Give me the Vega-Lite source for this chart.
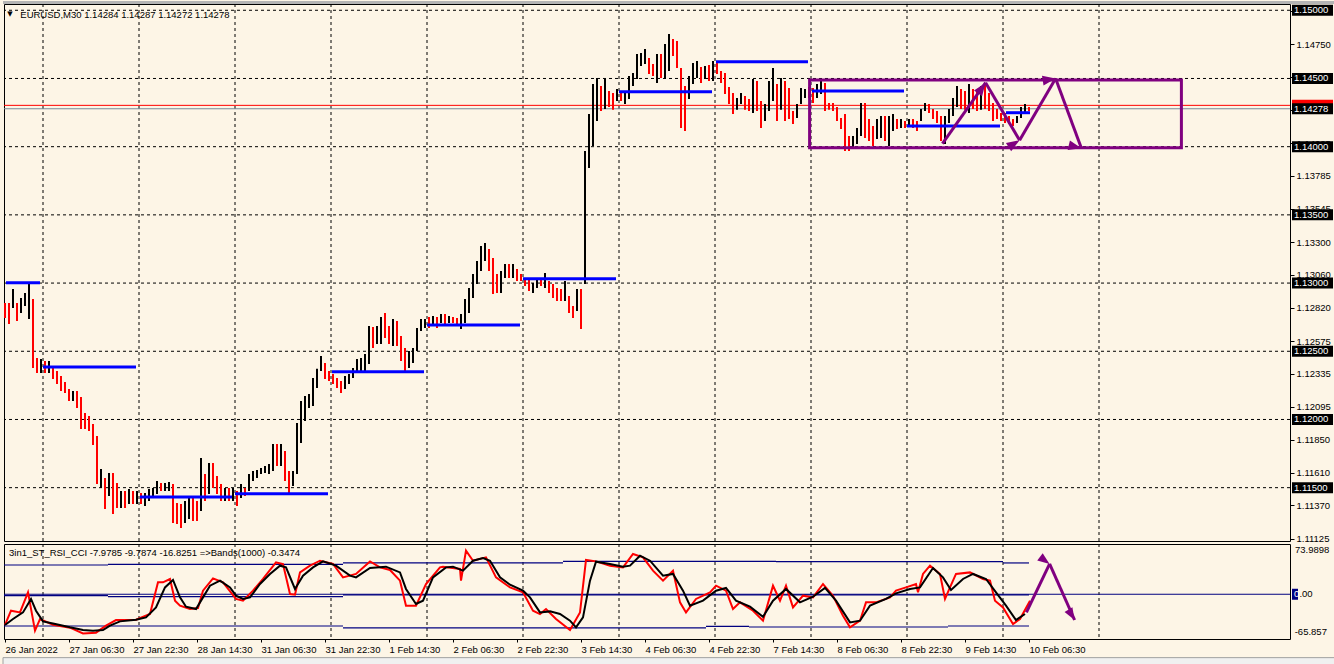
{
"$schema":"https://vega.github.io/schema/vega-lite/v6.json",
"background":"#FDF5E6",
"padding":0,
"spacing":3,
"bounds":"flush",
"config":{"view":{"stroke":"#000000","strokeWidth":1,"fill":"#FDF5E6"},"font":"Tahoma, Liberation Sans, sans-serif","axis":{"labelFont":"Tahoma, Liberation Sans, sans-serif","labelFontSize":9.5,"labelColor":"#000000","labelOverlap":false,"labelBound":false,"labelFlush":false},"text":{"font":"Tahoma, Liberation Sans, sans-serif","fontSize":9.5}},
"datasets":{
"days":[{"i":19},{"i":67},{"i":115},{"i":163},{"i":211},{"i":259},{"i":307},{"i":355},{"i":403},{"i":451},{"i":499},{"i":547}],
"bars":[
{"i":0,"h":1.12854,"l":1.12744,"u":0},{"i":2,"h":1.12854,"l":1.12700,"u":0},{"i":4,"h":1.12956,"l":1.12818,"u":1},{"i":6,"h":1.12854,"l":1.12722,"u":0},{"i":8,"h":1.12891,"l":1.12780,"u":1},{"i":10,"h":1.12927,"l":1.12832,"u":1},{"i":12,"h":1.12993,"l":1.12736,"u":1},{"i":14,"h":1.12883,"l":1.12378,"u":0},{"i":16,"h":1.12451,"l":1.12341,"u":0},{"i":18,"h":1.12444,"l":1.12341,"u":1},
{"i":20,"h":1.12429,"l":1.12341,"u":0},{"i":22,"h":1.12429,"l":1.12341,"u":1},{"i":24,"h":1.12378,"l":1.12297,"u":0},{"i":26,"h":1.12356,"l":1.12260,"u":0},{"i":28,"h":1.12319,"l":1.12209,"u":0},{"i":30,"h":1.12275,"l":1.12194,"u":0},{"i":32,"h":1.12223,"l":1.12136,"u":0},{"i":34,"h":1.12209,"l":1.12136,"u":1},{"i":36,"h":1.12209,"l":1.12085,"u":0},{"i":38,"h":1.12165,"l":1.11930,"u":0},
{"i":40,"h":1.12047,"l":1.11930,"u":0},{"i":42,"h":1.12025,"l":1.11916,"u":0},{"i":44,"h":1.11967,"l":1.11813,"u":0},{"i":46,"h":1.11879,"l":1.11527,"u":0},{"i":48,"h":1.11637,"l":1.11498,"u":1},{"i":50,"h":1.11571,"l":1.11343,"u":0},{"i":52,"h":1.11607,"l":1.11439,"u":1},{"i":54,"h":1.11607,"l":1.11307,"u":0},{"i":56,"h":1.11534,"l":1.11351,"u":0},{"i":58,"h":1.11476,"l":1.11351,"u":1},
{"i":60,"h":1.11476,"l":1.11351,"u":0},{"i":62,"h":1.11490,"l":1.11380,"u":1},{"i":64,"h":1.11476,"l":1.11380,"u":0},{"i":66,"h":1.11476,"l":1.11380,"u":1},{"i":68,"h":1.11461,"l":1.11380,"u":0},{"i":70,"h":1.11461,"l":1.11365,"u":1},{"i":72,"h":1.11490,"l":1.11402,"u":1},{"i":74,"h":1.11498,"l":1.11439,"u":1},{"i":76,"h":1.11549,"l":1.11454,"u":1},{"i":78,"h":1.11534,"l":1.11476,"u":0},
{"i":80,"h":1.11534,"l":1.11476,"u":1},{"i":82,"h":1.11542,"l":1.11476,"u":1},{"i":84,"h":1.11527,"l":1.11241,"u":0},{"i":86,"h":1.11387,"l":1.11234,"u":0},{"i":88,"h":1.11380,"l":1.11204,"u":0},{"i":90,"h":1.11402,"l":1.11241,"u":1},{"i":92,"h":1.11424,"l":1.11270,"u":1},{"i":94,"h":1.11424,"l":1.11256,"u":0},{"i":96,"h":1.11402,"l":1.11256,"u":0},{"i":98,"h":1.11718,"l":1.11329,"u":1},
{"i":100,"h":1.11600,"l":1.11402,"u":0},{"i":102,"h":1.11681,"l":1.11454,"u":1},{"i":104,"h":1.11681,"l":1.11498,"u":0},{"i":106,"h":1.11585,"l":1.11454,"u":0},{"i":108,"h":1.11527,"l":1.11402,"u":0},{"i":110,"h":1.11498,"l":1.11402,"u":1},{"i":112,"h":1.11498,"l":1.11402,"u":0},{"i":114,"h":1.11498,"l":1.11402,"u":1},{"i":116,"h":1.11476,"l":1.11365,"u":0},{"i":118,"h":1.11527,"l":1.11424,"u":1},
{"i":120,"h":1.11498,"l":1.11439,"u":0},{"i":122,"h":1.11600,"l":1.11476,"u":1},{"i":124,"h":1.11622,"l":1.11549,"u":1},{"i":126,"h":1.11629,"l":1.11571,"u":1},{"i":128,"h":1.11644,"l":1.11600,"u":1},{"i":130,"h":1.11659,"l":1.11607,"u":1},{"i":132,"h":1.11674,"l":1.11600,"u":1},{"i":134,"h":1.11820,"l":1.11622,"u":1},{"i":136,"h":1.11820,"l":1.11659,"u":0},{"i":138,"h":1.11820,"l":1.11659,"u":1},
{"i":140,"h":1.11769,"l":1.11549,"u":0},{"i":142,"h":1.11622,"l":1.11461,"u":0},{"i":144,"h":1.11622,"l":1.11512,"u":1},{"i":146,"h":1.11974,"l":1.11600,"u":1},{"i":148,"h":1.12136,"l":1.11827,"u":1},{"i":150,"h":1.12172,"l":1.11989,"u":1},{"i":152,"h":1.12187,"l":1.12085,"u":1},{"i":154,"h":1.12304,"l":1.12099,"u":1},{"i":156,"h":1.12371,"l":1.12231,"u":1},{"i":158,"h":1.12465,"l":1.12356,"u":1},
{"i":160,"h":1.12414,"l":1.12297,"u":0},{"i":162,"h":1.12356,"l":1.12282,"u":0},{"i":164,"h":1.12334,"l":1.12260,"u":0},{"i":166,"h":1.12304,"l":1.12231,"u":0},{"i":168,"h":1.12282,"l":1.12194,"u":0},{"i":170,"h":1.12319,"l":1.12223,"u":1},{"i":172,"h":1.12334,"l":1.12260,"u":1},{"i":174,"h":1.12378,"l":1.12304,"u":1},{"i":176,"h":1.12444,"l":1.12356,"u":1},{"i":178,"h":1.12451,"l":1.12356,"u":1},
{"i":180,"h":1.12480,"l":1.12341,"u":1},{"i":182,"h":1.12686,"l":1.12407,"u":1},{"i":184,"h":1.12678,"l":1.12524,"u":0},{"i":186,"h":1.12686,"l":1.12554,"u":1},{"i":188,"h":1.12751,"l":1.12554,"u":1},{"i":190,"h":1.12780,"l":1.12598,"u":0},{"i":192,"h":1.12686,"l":1.12554,"u":0},{"i":194,"h":1.12736,"l":1.12539,"u":1},{"i":196,"h":1.12722,"l":1.12539,"u":0},{"i":198,"h":1.12612,"l":1.12429,"u":0},
{"i":200,"h":1.12524,"l":1.12356,"u":0},{"i":202,"h":1.12502,"l":1.12378,"u":1},{"i":204,"h":1.12524,"l":1.12414,"u":1},{"i":206,"h":1.12671,"l":1.12502,"u":1},{"i":208,"h":1.12736,"l":1.12649,"u":1},{"i":210,"h":1.12736,"l":1.12671,"u":1},{"i":212,"h":1.12751,"l":1.12671,"u":0},{"i":214,"h":1.12758,"l":1.12686,"u":1},{"i":216,"h":1.12751,"l":1.12671,"u":0},{"i":218,"h":1.12773,"l":1.12707,"u":1},
{"i":220,"h":1.12773,"l":1.12700,"u":0},{"i":222,"h":1.12758,"l":1.12707,"u":1},{"i":224,"h":1.12751,"l":1.12707,"u":0},{"i":226,"h":1.12744,"l":1.12686,"u":0},{"i":228,"h":1.12773,"l":1.12664,"u":1},{"i":230,"h":1.12883,"l":1.12707,"u":1},{"i":232,"h":1.12964,"l":1.12780,"u":1},{"i":234,"h":1.13067,"l":1.12891,"u":1},{"i":236,"h":1.13162,"l":1.12993,"u":1},{"i":238,"h":1.13272,"l":1.13089,"u":1},
{"i":240,"h":1.13294,"l":1.13162,"u":1},{"i":242,"h":1.13250,"l":1.13089,"u":0},{"i":244,"h":1.13184,"l":1.12920,"u":0},{"i":246,"h":1.13067,"l":1.12927,"u":0},{"i":248,"h":1.13089,"l":1.12927,"u":1},{"i":250,"h":1.13140,"l":1.13037,"u":1},{"i":252,"h":1.13140,"l":1.13037,"u":0},{"i":254,"h":1.13140,"l":1.13037,"u":1},{"i":256,"h":1.13104,"l":1.13015,"u":0},{"i":258,"h":1.13067,"l":1.13015,"u":0},
{"i":260,"h":1.13037,"l":1.12978,"u":0},{"i":262,"h":1.13037,"l":1.12942,"u":0},{"i":264,"h":1.13000,"l":1.12927,"u":1},{"i":266,"h":1.13030,"l":1.12964,"u":1},{"i":268,"h":1.13037,"l":1.12978,"u":0},{"i":270,"h":1.13074,"l":1.12964,"u":1},{"i":272,"h":1.13015,"l":1.12927,"u":0},{"i":274,"h":1.12993,"l":1.12891,"u":0},{"i":276,"h":1.12964,"l":1.12869,"u":0},{"i":278,"h":1.12956,"l":1.12869,"u":0},
{"i":280,"h":1.13015,"l":1.12869,"u":1},{"i":282,"h":1.12905,"l":1.12780,"u":0},{"i":284,"h":1.12832,"l":1.12744,"u":0},{"i":286,"h":1.12956,"l":1.12795,"u":1},{"i":288,"h":1.12956,"l":1.12664,"u":0},{"i":290,"h":1.13969,"l":1.12993,"u":1},{"i":292,"h":1.14240,"l":1.13844,"u":1},{"i":294,"h":1.14460,"l":1.14005,"u":1},{"i":296,"h":1.14504,"l":1.14188,"u":1},{"i":298,"h":1.14445,"l":1.14262,"u":0},
{"i":300,"h":1.14496,"l":1.14277,"u":1},{"i":302,"h":1.14408,"l":1.14291,"u":0},{"i":304,"h":1.14394,"l":1.14270,"u":0},{"i":306,"h":1.14423,"l":1.14335,"u":1},{"i":308,"h":1.14394,"l":1.14335,"u":0},{"i":310,"h":1.14394,"l":1.14313,"u":1},{"i":312,"h":1.14518,"l":1.14350,"u":1},{"i":314,"h":1.14540,"l":1.14445,"u":1},{"i":316,"h":1.14680,"l":1.14496,"u":1},{"i":318,"h":1.14687,"l":1.14592,"u":1},
{"i":320,"h":1.14716,"l":1.14606,"u":1},{"i":322,"h":1.14650,"l":1.14533,"u":0},{"i":324,"h":1.14606,"l":1.14518,"u":0},{"i":326,"h":1.14680,"l":1.14467,"u":1},{"i":328,"h":1.14680,"l":1.14504,"u":0},{"i":330,"h":1.14753,"l":1.14496,"u":1},{"i":332,"h":1.14826,"l":1.14555,"u":1},{"i":334,"h":1.14790,"l":1.14665,"u":0},{"i":336,"h":1.14775,"l":1.14577,"u":0},{"i":338,"h":1.14577,"l":1.14137,"u":0},
{"i":340,"h":1.14445,"l":1.14115,"u":0},{"i":342,"h":1.14518,"l":1.14350,"u":1},{"i":344,"h":1.14613,"l":1.14460,"u":1},{"i":346,"h":1.14628,"l":1.14504,"u":1},{"i":348,"h":1.14584,"l":1.14467,"u":0},{"i":350,"h":1.14592,"l":1.14496,"u":1},{"i":352,"h":1.14599,"l":1.14482,"u":0},{"i":354,"h":1.14628,"l":1.14482,"u":1},{"i":356,"h":1.14628,"l":1.14533,"u":0},{"i":358,"h":1.14555,"l":1.14467,"u":0},
{"i":360,"h":1.14540,"l":1.14386,"u":0},{"i":362,"h":1.14438,"l":1.14313,"u":0},{"i":364,"h":1.14394,"l":1.14240,"u":0},{"i":366,"h":1.14357,"l":1.14270,"u":1},{"i":368,"h":1.14394,"l":1.14313,"u":1},{"i":370,"h":1.14372,"l":1.14270,"u":0},{"i":372,"h":1.14350,"l":1.14262,"u":0},{"i":374,"h":1.14496,"l":1.14247,"u":1},{"i":376,"h":1.14482,"l":1.14262,"u":0},{"i":378,"h":1.14335,"l":1.14137,"u":0},
{"i":380,"h":1.14313,"l":1.14188,"u":1},{"i":382,"h":1.14482,"l":1.14262,"u":1},{"i":384,"h":1.14577,"l":1.14335,"u":1},{"i":386,"h":1.14460,"l":1.14188,"u":0},{"i":388,"h":1.14504,"l":1.14270,"u":1},{"i":390,"h":1.14482,"l":1.14188,"u":0},{"i":392,"h":1.14430,"l":1.14203,"u":0},{"i":394,"h":1.14262,"l":1.14166,"u":0},{"i":396,"h":1.14313,"l":1.14210,"u":1},{"i":398,"h":1.14430,"l":1.14313,"u":1},
{"i":400,"h":1.14423,"l":1.14357,"u":1},{"i":402,"h":1.14438,"l":1.14357,"u":0},{"i":404,"h":1.14430,"l":1.14320,"u":0},{"i":406,"h":1.14460,"l":1.14357,"u":1},{"i":408,"h":1.14482,"l":1.14386,"u":1},{"i":410,"h":1.14467,"l":1.14262,"u":0},{"i":412,"h":1.14320,"l":1.14270,"u":0},{"i":414,"h":1.14320,"l":1.14262,"u":0},{"i":416,"h":1.14291,"l":1.14188,"u":0},{"i":418,"h":1.14210,"l":1.14130,"u":0},
{"i":420,"h":1.14240,"l":1.13969,"u":0},{"i":422,"h":1.14078,"l":1.13969,"u":0},{"i":424,"h":1.14078,"l":1.13983,"u":1},{"i":426,"h":1.14137,"l":1.14020,"u":1},{"i":428,"h":1.14320,"l":1.14078,"u":1},{"i":430,"h":1.14320,"l":1.14064,"u":0},{"i":432,"h":1.14203,"l":1.14042,"u":0},{"i":434,"h":1.14152,"l":1.14005,"u":0},{"i":436,"h":1.14203,"l":1.14056,"u":1},{"i":438,"h":1.14225,"l":1.14064,"u":1},
{"i":440,"h":1.14225,"l":1.14042,"u":0},{"i":442,"h":1.14225,"l":1.14005,"u":1},{"i":444,"h":1.14240,"l":1.14115,"u":1},{"i":446,"h":1.14203,"l":1.14130,"u":0},{"i":448,"h":1.14203,"l":1.14137,"u":1},{"i":450,"h":1.14188,"l":1.14137,"u":0},{"i":452,"h":1.14203,"l":1.14152,"u":1},{"i":454,"h":1.14203,"l":1.14137,"u":0},{"i":456,"h":1.14188,"l":1.14115,"u":0},{"i":458,"h":1.14277,"l":1.14188,"u":1},
{"i":460,"h":1.14320,"l":1.14262,"u":1},{"i":462,"h":1.14313,"l":1.14247,"u":0},{"i":464,"h":1.14277,"l":1.14203,"u":0},{"i":466,"h":1.14262,"l":1.14174,"u":0},{"i":468,"h":1.14225,"l":1.14042,"u":0},{"i":470,"h":1.14225,"l":1.14020,"u":1},{"i":472,"h":1.14277,"l":1.14174,"u":1},{"i":474,"h":1.14357,"l":1.14225,"u":1},{"i":476,"h":1.14445,"l":1.14291,"u":1},{"i":478,"h":1.14423,"l":1.14277,"u":0},
{"i":480,"h":1.14408,"l":1.14270,"u":0},{"i":482,"h":1.14460,"l":1.14247,"u":1},{"i":484,"h":1.14423,"l":1.14277,"u":0},{"i":486,"h":1.14408,"l":1.14262,"u":0},{"i":488,"h":1.14445,"l":1.14270,"u":1},{"i":490,"h":1.14467,"l":1.14277,"u":0},{"i":492,"h":1.14394,"l":1.14262,"u":0},{"i":494,"h":1.14320,"l":1.14188,"u":0},{"i":496,"h":1.14277,"l":1.14203,"u":0},{"i":498,"h":1.14247,"l":1.14188,"u":0},
{"i":500,"h":1.14247,"l":1.14174,"u":0},{"i":502,"h":1.14225,"l":1.14166,"u":0},{"i":504,"h":1.14203,"l":1.14152,"u":0},{"i":506,"h":1.14225,"l":1.14174,"u":1},{"i":508,"h":1.14291,"l":1.14210,"u":1},{"i":510,"h":1.14313,"l":1.14247,"u":1},{"i":512,"h":1.14291,"l":1.14262,"u":0}
],
"lev":[{"a":0.5,"b":17.5,"p":1.13002},{"a":19,"b":65.5,"p":1.12385},{"a":67.5,"b":113.5,"p":1.11432},{"a":115,"b":161.5,"p":1.11456},{"a":163.5,"b":209.5,"p":1.1235},{"a":211,"b":257.5,"p":1.12693},{"a":259,"b":305.5,"p":1.13032},{"a":307,"b":353.5,"p":1.14403},{"a":355.5,"b":401.5,"p":1.14623},{"a":403.5,"b":449.5,"p":1.14408},{"a":451,"b":497.5,"p":1.14152},{"a":500.5,"b":512.5,"p":1.14249}],
"arrows":[{"leg":1,"a":468.7,"p":1.14022,"b":490.3,"q":1.14469},{"leg":2,"a":490.3,"p":1.14469,"b":507.3,"q":1.14047},{"leg":3,"a":507.3,"p":1.14047,"b":525.3,"q":1.145},{"leg":4,"a":525.3,"p":1.145,"b":538.2,"q":1.13988}],
"iarrows":[{"leg":5,"a":510.7,"p":-26.7,"b":522.3,"q":44.6},{"leg":6,"a":522.3,"p":44.6,"b":534.8,"q":-37.9}],
"boxes":[{"p":1.15,"t":"1.15000"},{"p":1.145,"t":"1.14500"},{"p":1.14,"t":"1.14000"},{"p":1.135,"t":"1.13500"},{"p":1.13,"t":"1.13000"},{"p":1.125,"t":"1.12500"},{"p":1.12,"t":"1.12000"},{"p":1.115,"t":"1.11500"},{"p":1.14278,"t":"1.14278"}],
"slow":[{"i":0,"v":-45.2},{"i":4,"v":-36.4},{"i":9,"v":-26.7},{"i":13,"v":-6.9},{"i":15.5,"v":-24.2},{"i":19,"v":-39.9},{"i":24,"v":-42.9},{"i":32.5,"v":-48.7},{"i":39,"v":-52.6},{"i":44,"v":-53.6},{"i":49,"v":-52.6},{"i":52.5,"v":-46.2},{"i":57.5,"v":-39.9},{"i":65.5,"v":-37.4},{"i":70.5,"v":-34},{"i":75.5,"v":-19.3},{"i":80,"v":10.1},{"i":84,"v":21},{"i":87.5,"v":-4.6},{"i":90.5,"v":-18.3},{"i":95.5,"v":-21.7},{"i":99,"v":-4.6},{"i":102.5,"v":12.6},{"i":107.5,"v":20},{"i":112.5,"v":10.1},{"i":115.5,"v":-2.1},{"i":119,"v":-6.9},{"i":122.5,"v":-4.6},{"i":127.5,"v":15.1},{"i":132.5,"v":29.9},{"i":137.5,"v":42.1},{"i":140.5,"v":39.6},{"i":145,"v":7.8},{"i":149,"v":27.4},{"i":154,"v":39.6},{"i":159,"v":48.4},{"i":165.5,"v":42.1},{"i":172.5,"v":27.4},{"i":175.5,"v":24.9},{"i":182.5,"v":38.7},{"i":190.5,"v":40.6},{"i":197.5,"v":32.2},{"i":200.5,"v":7.8},{"i":205.5,"v":-14.3},{"i":209,"v":-9.4},{"i":214,"v":24.9},{"i":220.5,"v":39.6},{"i":224,"v":40.6},{"i":229,"v":34.7},{"i":234,"v":49.4},{"i":239,"v":53.4},{"i":242.5,"v":49.4},{"i":247.5,"v":24.9},{"i":252.5,"v":14.1},{"i":259,"v":5.3},{"i":262.5,"v":-4.6},{"i":267.5,"v":-26.7},{"i":272.5,"v":-25.2},{"i":277.5,"v":-29.1},{"i":282.5,"v":-38.9},{"i":285.5,"v":-48.7},{"i":289,"v":-34},{"i":292.5,"v":20},{"i":295.5,"v":48},{"i":302.5,"v":44.6},{"i":309,"v":40.6},{"i":312.5,"v":42.1},{"i":317.5,"v":56.8},{"i":322.5,"v":49.4},{"i":329,"v":27.4},{"i":334,"v":29.9},{"i":339,"v":5.3},{"i":342.5,"v":-16.8},{"i":349,"v":-9.4},{"i":355.5,"v":5.3},{"i":360.5,"v":9.3},{"i":365.5,"v":-9.4},{"i":372.5,"v":-18.3},{"i":379,"v":-33},{"i":384,"v":-9.4},{"i":390.5,"v":7.8},{"i":397.5,"v":-11.9},{"i":404,"v":-3.6},{"i":410,"v":9.3},{"i":415.5,"v":-9.4},{"i":422.5,"v":-41.4},{"i":427.5,"v":-38.9},{"i":432.5,"v":-16.8},{"i":440.5,"v":-6.9},{"i":445.5,"v":1.3},{"i":452.5,"v":7.8},{"i":457.5,"v":10.1},{"i":464,"v":38.7},{"i":469,"v":24.9},{"i":473,"v":6.3},{"i":479,"v":22.5},{"i":484,"v":29.9},{"i":490.5,"v":22.5},{"i":495.5,"v":2.8},{"i":500.5,"v":-16.8},{"i":505.5,"v":-37.9},{"i":510,"v":-29}],
"fast":[{"i":0,"v":-45.2},{"i":3,"v":-24.2},{"i":7.5,"v":-26.7},{"i":11.5,"v":2.8},{"i":15,"v":-53.6},{"i":17.5,"v":-36.4},{"i":24,"v":-44.8},{"i":32.5,"v":-49.2},{"i":39,"v":-57.6},{"i":45.5,"v":-56.5},{"i":50.5,"v":-46.2},{"i":55.5,"v":-37.9},{"i":65.5,"v":-37.4},{"i":72.5,"v":-29.1},{"i":76.5,"v":17.5},{"i":79,"v":17.5},{"i":82.5,"v":22.5},{"i":85,"v":-9.4},{"i":87.5,"v":-16.8},{"i":92.5,"v":-21.7},{"i":96.5,"v":-20.2},{"i":99,"v":5.3},{"i":104,"v":23.4},{"i":109,"v":17.5},{"i":115.5,"v":-6.9},{"i":119,"v":-9.4},{"i":124,"v":5.3},{"i":129,"v":22.5},{"i":135.5,"v":46.9},{"i":139,"v":44.6},{"i":142.5,"v":0.4},{"i":145,"v":-0.6},{"i":147.5,"v":32.2},{"i":152.5,"v":42.1},{"i":157.5,"v":49.4},{"i":164,"v":44.6},{"i":169,"v":24.9},{"i":175.5,"v":29.9},{"i":182.5,"v":48.4},{"i":187.5,"v":39.6},{"i":192.5,"v":35.7},{"i":197.5,"v":20},{"i":200.5,"v":-16.8},{"i":205.5,"v":-16.8},{"i":210.5,"v":15.1},{"i":217.5,"v":39.6},{"i":219,"v":40.6},{"i":227.5,"v":37.2},{"i":228,"v":20},{"i":230.5,"v":64.2},{"i":234,"v":49.4},{"i":240.5,"v":54.3},{"i":245.5,"v":24.9},{"i":252.5,"v":10.1},{"i":259,"v":2.8},{"i":264,"v":-24.2},{"i":267.5,"v":-29.1},{"i":270.5,"v":-21.7},{"i":275.5,"v":-36.4},{"i":282.5,"v":-52.6},{"i":287.5,"v":-26.7},{"i":290.5,"v":50.5},{"i":295.5,"v":48.4},{"i":302.5,"v":42.1},{"i":309,"v":39.6},{"i":314,"v":59.3},{"i":319,"v":54.3},{"i":324,"v":34.7},{"i":329,"v":20},{"i":334,"v":34.7},{"i":337.5,"v":-11.9},{"i":340.5,"v":-26.7},{"i":345.5,"v":-6.9},{"i":352.5,"v":2.8},{"i":355.5,"v":12.6},{"i":360.5,"v":5.3},{"i":364,"v":-21.7},{"i":367.5,"v":-11.9},{"i":374,"v":-24.2},{"i":379,"v":-38.9},{"i":384,"v":12.6},{"i":387.5,"v":-9.4},{"i":390.5,"v":12.6},{"i":394,"v":-19.3},{"i":399,"v":-2.1},{"i":404,"v":-4.6},{"i":409,"v":15.1},{"i":414,"v":-2.1},{"i":419,"v":-31.5},{"i":422.5,"v":-48.7},{"i":427.5,"v":-38.9},{"i":430.5,"v":-11.9},{"i":435.5,"v":-11.9},{"i":442.5,"v":-4.6},{"i":445.5,"v":5.3},{"i":450.5,"v":10.1},{"i":455.5,"v":15.1},{"i":456.5,"v":2.8},{"i":459,"v":29.9},{"i":462.5,"v":42.1},{"i":467.5,"v":29.9},{"i":470,"v":-6.9},{"i":472.5,"v":10.1},{"i":475.5,"v":29.9},{"i":482.5,"v":32.2},{"i":489,"v":22.5},{"i":492.5,"v":20},{"i":495,"v":-9.4},{"i":499,"v":-19.3},{"i":504,"v":-43.7},{"i":507.5,"v":-36.4},{"i":512.5,"v":-9.4}],
"bands":[{"a":-0.5,"b":51.5,"v":43.1},{"a":51.5,"b":169,"v":44},{"a":169,"b":279,"v":46.1},{"a":279,"b":385.5,"v":48.4},{"a":385.5,"b":499,"v":47.9},{"a":499,"b":512,"v":46.1},{"a":-0.5,"b":169,"v":-46.7},{"a":169,"b":350.5,"v":-49.6},{"a":350.5,"b":372,"v":-47.3},{"a":372,"b":471.5,"v":-48.2},{"a":471.5,"b":512,"v":-46.7},{"a":-0.5,"b":51.5,"v":-2.1},{"a":51.5,"b":169,"v":-3.6},{"a":169,"b":512,"v":-0.8}]
},
"vconcat":[
{"width":1286,"height":537,
"layer":[
{"data":{"values":[{"p":1.115},{"p":1.12},{"p":1.125},{"p":1.13},{"p":1.135},{"p":1.14},{"p":1.145},{"p":1.15}]},
"mark":{"type":"rule","color":"#000000","strokeWidth":1,"strokeDash":[3,3]},
"encoding":{"y":{"field":"p","type":"quantitative","title":null,"scale":{"domain":[1.11109,1.15046],"nice":false,"zero":false},
"axis":{"orient":"right","title":null,"grid":false,"domain":false,"tickCount":60,"values":[1.11125,1.1137,1.1161,1.1185,1.12095,1.12335,1.12575,1.1282,1.1306,1.133,1.13545,1.13785,1.14025,1.1427,1.1451,1.1475,1.14995],"format":".5f","tickSize":4,"tickColor":"#000000","labelPadding":2,"labelColor":"#000000","labelFontSize":9.5,"labelOverlap":false,"labelBound":false,"labelFlush":false}}}},
{"data":{"name":"days"},"mark":{"type":"rule","color":"#000000","strokeWidth":1,"strokeDash":[3,3]},
"encoding":{"x":{"field":"i","type":"quantitative","scale":{"domain":[-0.5,642.5],"nice":false,"zero":false},"axis":null}}},
{"data":{"values":[{"p":1.14278}]},"mark":{"type":"rule","color":"#778899","strokeWidth":1},
"encoding":{"y":{"field":"p","type":"quantitative","title":null}}},
{"data":{"values":[{"p":1.14303}]},"mark":{"type":"rule","color":"#FF0000","strokeWidth":1},
"encoding":{"y":{"field":"p","type":"quantitative","title":null}}},
{"data":{"name":"bars"},"mark":{"type":"rule","strokeWidth":2},
"encoding":{"x":{"field":"i","type":"quantitative","axis":null},"y":{"field":"l","type":"quantitative","title":null},"y2":{"field":"h"},
"color":{"field":"u","type":"nominal","scale":{"domain":[0,1],"range":["#FF0000","#000000"]},"legend":null}}},
{"data":{"name":"lev"},"mark":{"type":"rule","color":"#0000FF","strokeWidth":3},
"encoding":{"x":{"field":"a","type":"quantitative","axis":null},"x2":{"field":"b"},"y":{"field":"p","type":"quantitative","title":null}}},
{"data":{"values":[{"a":402.3,"b":588.2,"p1":1.13993,"p2":1.14489}]},"mark":{"type":"rect","fill":null,"fillOpacity":0,"stroke":"#800080","strokeWidth":3},
"encoding":{"x":{"field":"a","type":"quantitative","axis":null},"x2":{"field":"b"},"y":{"field":"p1","type":"quantitative","title":null},"y2":{"field":"p2"}}},
{"data":{"name":"arrows"},"mark":{"type":"rule","color":"#800080","strokeWidth":3},
"encoding":{"x":{"field":"a","type":"quantitative","axis":null},"x2":{"field":"b"},"y":{"field":"p","type":"quantitative","title":null},"y2":{"field":"q"}}},
{"data":{"name":"arrows"},"mark":{"type":"point","shape":"M0,0L0.38,1L-0.38,1Z","filled":true,"color":"#800080","opacity":1,"size":676},
"encoding":{"x":{"field":"b","type":"quantitative","axis":null},"y":{"field":"q","type":"quantitative","title":null},
"angle":{"field":"leg","type":"quantitative","scale":{"domain":[1,2,3,4],"range":[35.4,149.4,30.1,159.9]},"legend":null}}},
{"data":{"values":[{"x":653.75,"p":1.14303}]},"mark":{"type":"tick","orient":"horizontal","color":"#FF0000","opacity":1,"size":41,"thickness":11},
"encoding":{"x":{"field":"x","type":"quantitative","axis":null},"y":{"field":"p","type":"quantitative","title":null}}},
{"data":{"name":"boxes"},"transform":[{"calculate":"653.75","as":"x"}],"mark":{"type":"tick","orient":"horizontal","color":"#000000","opacity":1,"size":41,"thickness":11},
"encoding":{"x":{"field":"x","type":"quantitative","axis":null},"y":{"field":"p","type":"quantitative","title":null}}},
{"data":{"name":"boxes"},"transform":[{"calculate":"644.5","as":"x"}],"mark":{"type":"text","align":"left","baseline":"middle","color":"#FFFFFF","fontSize":9.5},
"encoding":{"x":{"field":"x","type":"quantitative","axis":null},"y":{"field":"p","type":"quantitative","title":null},"text":{"field":"t"}}},
{"data":{"values":[{"x":7.65,"p":1.14969,"t":"EURUSD,M30  1.14284 1.14287 1.14272 1.14278"}]},"mark":{"type":"text","align":"left","baseline":"middle","color":"#000000","fontSize":9.5},
"encoding":{"x":{"field":"x","type":"quantitative","axis":null},"y":{"field":"p","type":"quantitative","title":null},"text":{"field":"t"}}},
{"data":{"values":[{"x":2.5,"p":1.14975,"t":"▼"}]},"mark":{"type":"text","align":"center","baseline":"middle","color":"#000000","fontSize":7,"font":"DejaVu Sans"},
"encoding":{"x":{"field":"x","type":"quantitative","axis":null},"y":{"field":"p","type":"quantitative","title":null},"text":{"field":"t"}}},
{"data":{"values":[{"a":-1,"b":666,"p1":1.15046,"p2":1.15068}]},"mark":{"type":"rect","color":"#B4B4B4","opacity":1},
"encoding":{"x":{"field":"a","type":"quantitative","axis":null},"x2":{"field":"b"},"y":{"field":"p1","type":"quantitative","title":null},"y2":{"field":"p2"}}}
]},
{"width":1286,"height":95,
"layer":[
{"data":{"name":"days"},"mark":{"type":"rule","color":"#000000","strokeWidth":1,"strokeDash":[3,3]},
"encoding":{"x":{"field":"i","type":"quantitative","title":null,"scale":{"domain":[-0.5,642.5],"nice":false,"zero":false},
"axis":{"orient":"bottom","title":null,"grid":false,"domain":false,"tickCount":60,"values":[0,32,64,96,128,160,192,224,256,288,320,352,384,416,448,480,512],
"labelExpr":"['26 Jan 2022','27 Jan 06:30','27 Jan 22:30','28 Jan 14:30','31 Jan 06:30','31 Jan 22:30','1 Feb 14:30','2 Feb 06:30','2 Feb 22:30','3 Feb 14:30','4 Feb 06:30','4 Feb 22:30','7 Feb 14:30','8 Feb 06:30','8 Feb 22:30','9 Feb 14:30','10 Feb 06:30'][round(datum.value/32)]",
"labelAlign":"left","labelBaseline":"top","labelPadding":2,"tickSize":3,"tickColor":"#000000","labelColor":"#000000","labelFontSize":9.5,"labelOverlap":false,"labelBound":false,"labelFlush":false}}}},
{"data":{"values":[{"v":0}]},"mark":{"type":"rule","color":"#000080","strokeWidth":1},
"encoding":{"y":{"field":"v","type":"quantitative","scale":{"domain":[-65.857,73.9898],"nice":false,"zero":false},"axis":null}}},
{"data":{"name":"bands"},"mark":{"type":"rule","color":"#000080","strokeWidth":1.2},
"encoding":{"x":{"field":"a","type":"quantitative","title":null},"x2":{"field":"b"},"y":{"field":"v","type":"quantitative","axis":null}}},
{"data":{"name":"fast"},"mark":{"type":"line","color":"#FF0000","strokeWidth":2},
"encoding":{"x":{"field":"i","type":"quantitative","title":null},"y":{"field":"v","type":"quantitative","axis":null}}},
{"data":{"name":"slow"},"mark":{"type":"line","color":"#000000","strokeWidth":2},
"encoding":{"x":{"field":"i","type":"quantitative","title":null},"y":{"field":"v","type":"quantitative","axis":null}}},
{"data":{"name":"iarrows"},"mark":{"type":"rule","color":"#800080","strokeWidth":3},
"encoding":{"x":{"field":"a","type":"quantitative","title":null},"x2":{"field":"b"},"y":{"field":"p","type":"quantitative","axis":null},"y2":{"field":"q"}}},
{"data":{"name":"iarrows"},"mark":{"type":"point","shape":"M0,0L0.38,1L-0.38,1Z","filled":true,"color":"#800080","opacity":1,"size":576},
"encoding":{"x":{"field":"b","type":"quantitative","title":null},"y":{"field":"q","type":"quantitative","axis":null},
"angle":{"field":"leg","type":"quantitative","scale":{"domain":[5,6],"range":[25.8,155.9]},"legend":null}}},
{"data":{"values":[{"x":2,"v":60.2,"t":"3in1_ST_RSI_CCI -7.9785 -9.7874 -16.8251  =>Bands(1000) -0.3474"}]},"mark":{"type":"text","align":"left","baseline":"middle","color":"#000000","fontSize":9.5},
"encoding":{"x":{"field":"x","type":"quantitative","title":null},"y":{"field":"v","type":"quantitative","axis":null},"text":{"field":"t"}}},
{"data":{"values":[{"x":645,"v":0}]},"mark":{"type":"tick","orient":"horizontal","color":"#000080","opacity":1,"size":6,"thickness":11},
"encoding":{"x":{"field":"x","type":"quantitative","title":null},"y":{"field":"v","type":"quantitative","axis":null}}},
{"data":{"values":[{"x":645,"v":65.6,"t":"73.9898"},{"x":644.85,"v":-55.8,"t":"-65.857"},{"x":647.2,"v":0,"t":".00"}]},"mark":{"type":"text","align":"left","baseline":"middle","color":"#000000","fontSize":9.5},
"encoding":{"x":{"field":"x","type":"quantitative","title":null},"y":{"field":"v","type":"quantitative","axis":null},"text":{"field":"t"}}},
{"data":{"values":[{"x":644.5,"v":0,"t":"0"}]},"mark":{"type":"text","align":"left","baseline":"middle","color":"#FFFFFF","fontSize":9.5},
"encoding":{"x":{"field":"x","type":"quantitative","title":null},"y":{"field":"v","type":"quantitative","axis":null},"text":{"field":"t"}}},
{"data":{"values":[{"a":-1,"b":666,"p1":-93.3,"p2":-103.6}]},"mark":{"type":"rect","color":"#F0F0F0","opacity":1,"stroke":"#A0A0A0","strokeWidth":1},
"encoding":{"x":{"field":"a","type":"quantitative","title":null},"x2":{"field":"b"},"y":{"field":"p1","type":"quantitative","axis":null},"y2":{"field":"p2"}}}
]}
]
}
